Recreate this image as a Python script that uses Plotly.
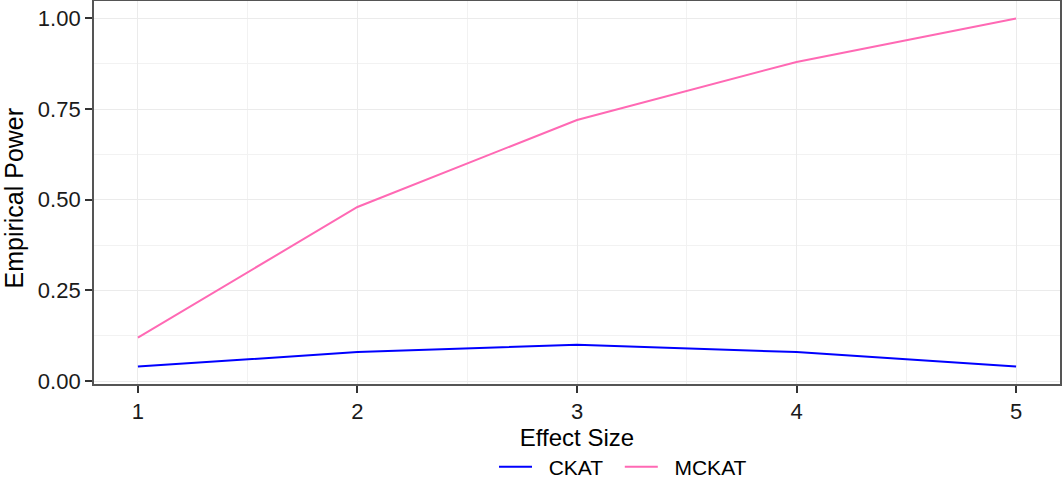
import plotly.graph_objects as go

effect_size = [1, 2, 3, 4, 5]
ckat = [0.04, 0.08, 0.10, 0.08, 0.04]
mckat = [0.12, 0.48, 0.72, 0.88, 1.00]

x_ticks = [1, 2, 3, 4, 5]
y_ticks = [0.0, 0.25, 0.5, 0.75, 1.0]
y_tick_labels = ["0.00", "0.25", "0.50", "0.75", "1.00"]

FONT = "Liberation Sans, Arial, Helvetica, sans-serif"
NB = "\u00a0"

fig = go.Figure()
fig.add_trace(go.Scatter(x=effect_size, y=ckat, mode="lines", name=NB * 2 + "CKAT" + NB * 2,
                         line=dict(color="#0000FF", width=2)))
fig.add_trace(go.Scatter(x=effect_size, y=mckat, mode="lines", name=NB * 2 + "MCKAT",
                         line=dict(color="#FF69B4", width=2)))

axis_common = dict(
    showline=True, mirror=True, linecolor="#555555", linewidth=1.8,
    ticks="outside", ticklen=7, tickwidth=1.8, tickcolor="#333333",
    showgrid=True, gridcolor="#EBEBEB", gridwidth=1.4,
    zeroline=False,
    tickfont=dict(family=FONT, size=22, color="#1a1a1a"),
)

fig.update_xaxes(
    **axis_common,
    range=[0.8, 5.2], tickvals=x_ticks, ticktext=[str(v) for v in x_ticks],
    minor=dict(dtick=0.5, tick0=0.5, showgrid=True, gridcolor="#F2F2F2", gridwidth=0.9, ticks=""),
    title=dict(text="Effect Size", font=dict(family=FONT, size=24, color="black"), standoff=4),
)
fig.update_yaxes(
    **axis_common,
    range=[-0.008, 1.048], tickvals=y_ticks, ticktext=y_tick_labels,
    minor=dict(dtick=0.125, tick0=0.125, showgrid=True, gridcolor="#F2F2F2", gridwidth=0.9, ticks=""),
)

fig.add_annotation(
    text="Empirical Power", textangle=-90, showarrow=False,
    xref="paper", yref="paper", x=(13 - 94) / 966, y=(384 - 198.5) / 383,
    xanchor="center", yanchor="middle",
    font=dict(family=FONT, size=25, color="black"),
)

fig.update_layout(
    width=1062, height=488,
    margin=dict(l=94, r=2, t=1, b=104, autoexpand=False),
    plot_bgcolor="white", paper_bgcolor="white",
    showlegend=True,
    legend=dict(orientation="h", x=(494 - 94) / 966, xanchor="left", y=-0.217, yanchor="middle",
                font=dict(family=FONT, size=21, color="black"), itemwidth=33,
                tracegroupgap=0, bgcolor="rgba(0,0,0,0)"),
)

fig.write_html("out.html", config={"displayModeBar": False},
               post_script="document.body.style.margin='0';")
